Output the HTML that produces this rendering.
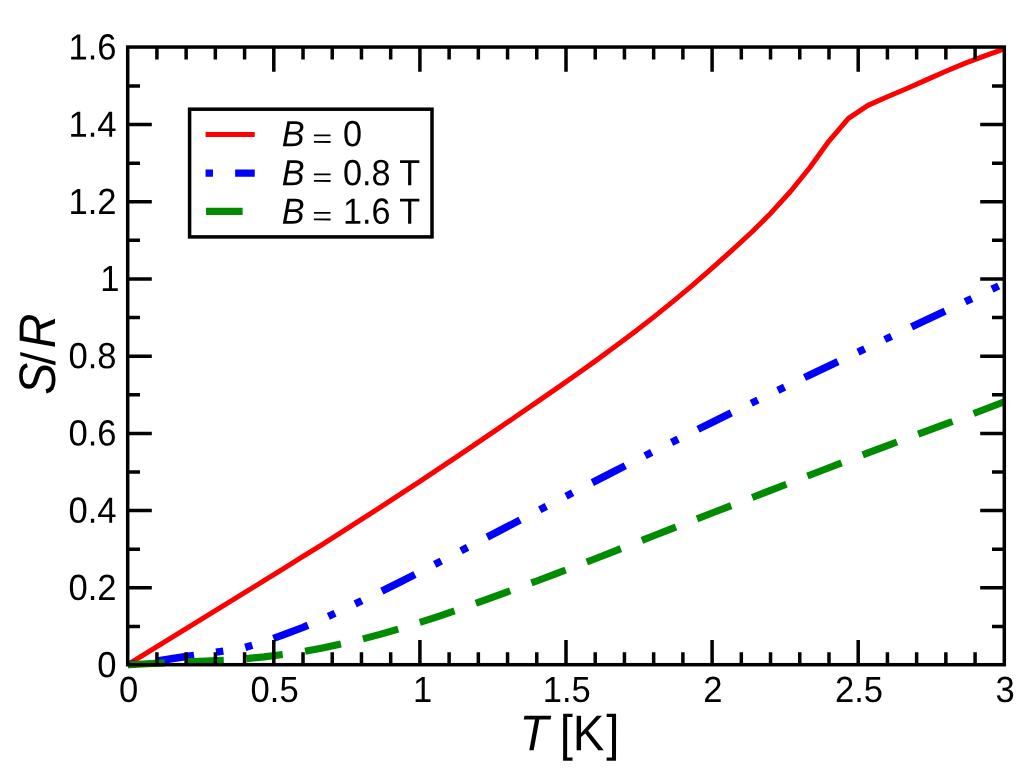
<!DOCTYPE html>
<html><head><meta charset="utf-8"><title>S/R vs T</title>
<style>html,body{margin:0;padding:0;background:#fff;}svg{display:block;}text{font-family:"Liberation Sans",sans-serif;fill:#000;text-rendering:geometricPrecision;}</style></head>
<body>
<svg width="1034" height="784" viewBox="0 0 1034 784">
<rect width="1034" height="784" fill="#fff"/>
<g fill="none" stroke-linejoin="round">
<path d="M127.70,664.70 L147.18,652.66 L166.66,640.61 L186.14,628.64 L205.62,616.68 L225.10,604.71 L244.58,592.71 L264.06,580.70 L283.54,568.62 L303.02,556.46 L322.50,544.26 L341.98,531.91 L361.46,519.44 L380.94,506.85 L400.42,494.15 L419.90,481.30 L439.38,468.36 L458.86,455.32 L478.34,442.15 L497.82,428.91 L517.30,415.56 L536.78,402.12 L556.26,388.65 L575.74,374.98 L595.22,361.09 L614.70,346.84 L634.18,332.21 L653.66,317.12 L673.14,301.41 L692.62,285.15 L712.10,268.21 L731.58,250.64 L751.06,232.73 L770.54,213.43 L790.02,192.00 L809.50,167.95 L828.98,141.05 L848.46,118.43 L867.94,105.34 L887.42,96.74 L906.90,88.53 L926.38,79.85 L945.86,71.23 L965.34,63.12 L984.82,55.91 L1004.30,48.86" stroke="#ff0000" stroke-width="5.00"/>
<path d="M127.70,664.70 L147.18,662.26 L166.66,659.53 L186.14,656.50 L205.62,653.72 L225.10,650.88 L244.58,647.58 L264.06,641.77 L283.54,634.70 L303.02,627.39 L322.50,619.03 L341.98,610.06 L361.46,600.90 L380.94,591.53 L400.42,581.87 L419.90,572.01 L439.38,562.00 L458.86,551.90 L478.34,541.76 L497.82,531.62 L517.30,521.47 L536.78,511.33 L556.26,501.22 L575.74,491.14 L595.22,481.10 L614.70,471.12 L634.18,461.20 L653.66,451.36 L673.14,441.60 L692.62,431.92 L712.10,422.31 L731.58,412.76 L751.06,403.28 L770.54,393.86 L790.02,384.49 L809.50,375.16 L828.98,365.88 L848.46,356.63 L867.94,347.42 L887.42,338.23 L906.90,329.06 L926.38,319.90 L945.86,310.76 L965.34,301.62 L984.82,292.49 L1004.30,283.34" stroke="#0000ff" stroke-width="7.40" stroke-dasharray="7.40,22.20,37.00,22.20,7.40,22.20" stroke-dashoffset="-0.4"/>
<path d="M127.70,664.70 L147.18,663.70 L166.66,662.76 L186.14,661.90 L205.62,661.07 L225.10,660.22 L244.58,658.83 L264.06,656.88 L283.54,654.48 L303.02,651.65 L322.50,647.96 L341.98,643.77 L361.46,639.23 L380.94,634.15 L400.42,628.55 L419.90,622.48 L439.38,616.03 L458.86,609.29 L478.34,602.37 L497.82,595.33 L517.30,588.19 L536.78,580.96 L556.26,573.63 L575.74,566.21 L595.22,558.69 L614.70,551.09 L634.18,543.45 L653.66,535.78 L673.14,528.13 L692.62,520.52 L712.10,513.02 L731.58,505.53 L751.06,497.92 L770.54,490.34 L790.02,482.80 L809.50,475.25 L828.98,467.72 L848.46,460.25 L867.94,452.87 L887.42,445.58 L906.90,438.36 L926.38,431.17 L945.86,423.95 L965.34,416.67 L984.82,409.29 L1004.30,401.77" stroke="#008b00" stroke-width="7.10" stroke-dasharray="36.6,22.6" stroke-dashoffset="-0.4"/>
</g>
<path d="M156.92,664.70v-12.40M156.92,47.05v12.40M186.14,664.70v-12.40M186.14,47.05v12.40M215.36,664.70v-12.40M215.36,47.05v12.40M244.58,664.70v-12.40M244.58,47.05v12.40M273.80,664.70v-24.60M273.80,47.05v24.60M303.02,664.70v-12.40M303.02,47.05v12.40M332.24,664.70v-12.40M332.24,47.05v12.40M361.46,664.70v-12.40M361.46,47.05v12.40M390.68,664.70v-12.40M390.68,47.05v12.40M419.90,664.70v-24.60M419.90,47.05v24.60M449.12,664.70v-12.40M449.12,47.05v12.40M478.34,664.70v-12.40M478.34,47.05v12.40M507.56,664.70v-12.40M507.56,47.05v12.40M536.78,664.70v-12.40M536.78,47.05v12.40M566.00,664.70v-24.60M566.00,47.05v24.60M595.22,664.70v-12.40M595.22,47.05v12.40M624.44,664.70v-12.40M624.44,47.05v12.40M653.66,664.70v-12.40M653.66,47.05v12.40M682.88,664.70v-12.40M682.88,47.05v12.40M712.10,664.70v-24.60M712.10,47.05v24.60M741.32,664.70v-12.40M741.32,47.05v12.40M770.54,664.70v-12.40M770.54,47.05v12.40M799.76,664.70v-12.40M799.76,47.05v12.40M828.98,664.70v-12.40M828.98,47.05v12.40M858.20,664.70v-24.60M858.20,47.05v24.60M887.42,664.70v-12.40M887.42,47.05v12.40M916.64,664.70v-12.40M916.64,47.05v12.40M945.86,664.70v-12.40M945.86,47.05v12.40M975.08,664.70v-12.40M975.08,47.05v12.40M127.70,626.40h12.30M1004.30,626.40h-12.30M127.70,587.79h24.10M1004.30,587.79h-24.10M127.70,549.19h12.30M1004.30,549.19h-12.30M127.70,510.59h24.10M1004.30,510.59h-24.10M127.70,471.98h12.30M1004.30,471.98h-12.30M127.70,433.38h24.10M1004.30,433.38h-24.10M127.70,394.78h12.30M1004.30,394.78h-12.30M127.70,356.18h24.10M1004.30,356.18h-24.10M127.70,317.57h12.30M1004.30,317.57h-12.30M127.70,278.97h24.10M1004.30,278.97h-24.10M127.70,240.37h12.30M1004.30,240.37h-12.30M127.70,201.76h24.10M1004.30,201.76h-24.10M127.70,163.16h12.30M1004.30,163.16h-12.30M127.70,124.56h24.10M1004.30,124.56h-24.10M127.70,85.95h12.30M1004.30,85.95h-12.30" stroke="#000" stroke-width="3.50" fill="none"/>
<rect x="127.70" y="47.05" width="876.60" height="617.65" fill="none" stroke="#000" stroke-width="3.50"/>
<g font-size="34.60">
<text transform="translate(128.50,701.90) rotate(0.03) scale(1,1.055)" text-anchor="middle">0</text>
<text transform="translate(274.60,701.90) rotate(0.03) scale(1,1.055)" text-anchor="middle">0.5</text>
<text transform="translate(422.70,701.90) rotate(0.03) scale(1,1.055)" text-anchor="middle">1</text>
<text transform="translate(566.80,701.90) rotate(0.03) scale(1,1.055)" text-anchor="middle">1.5</text>
<text transform="translate(712.90,701.90) rotate(0.03) scale(1,1.055)" text-anchor="middle">2</text>
<text transform="translate(859.00,701.90) rotate(0.03) scale(1,1.055)" text-anchor="middle">2.5</text>
<text transform="translate(1005.10,701.90) rotate(0.03) scale(1,1.055)" text-anchor="middle">3</text>
<text transform="translate(116.60,677.15) rotate(0.03) scale(1,1.055)" text-anchor="end">0</text>
<text transform="translate(116.60,599.94) rotate(0.03) scale(1,1.055)" text-anchor="end">0.2</text>
<text transform="translate(116.60,522.74) rotate(0.03) scale(1,1.055)" text-anchor="end">0.4</text>
<text transform="translate(116.60,445.53) rotate(0.03) scale(1,1.055)" text-anchor="end">0.6</text>
<text transform="translate(116.60,368.32) rotate(0.03) scale(1,1.055)" text-anchor="end">0.8</text>
<text transform="translate(119.60,291.12) rotate(0.03) scale(1,1.055)" text-anchor="end">1</text>
<text transform="translate(116.60,213.91) rotate(0.03) scale(1,1.055)" text-anchor="end">1.2</text>
<text transform="translate(116.60,136.71) rotate(0.03) scale(1,1.055)" text-anchor="end">1.4</text>
<text transform="translate(116.60,59.50) rotate(0.03) scale(1,1.055)" text-anchor="end">1.6</text>
</g>
<text transform="translate(519.55,750.2) rotate(0.03) scale(1,1.0626)" font-size="47.33"><tspan font-style="italic">T</tspan> <tspan dx="-1.9">[K</tspan><tspan dx="1.9">]</tspan></text>
<g font-size="48">
<text transform="translate(55.40,394.7) rotate(-90) scale(1,1.07)" font-style="italic">S</text>
<text transform="translate(55.40,365.2) rotate(-90) scale(1,1.0)">/</text>
<text transform="translate(55.40,348.2) rotate(-90) scale(1,1.07)" font-style="italic">R</text>
</g>
<rect x="189.6" y="109.2" width="242.4" height="127.7" fill="#fff" stroke="#000" stroke-width="3.50"/>
<path d="M205.55,134.60h49.2" stroke="#ff0000" stroke-width="5.00"/>
<path d="M205.55,173.10h49.2" stroke="#0000ff" stroke-width="7.40" stroke-dasharray="7.40,22.20,37.00,22.20,7.40,22.20"/>
<path d="M205.55,211.40h49.2" stroke="#008b00" stroke-width="7.10" stroke-dasharray="36.6,22.6" stroke-dashoffset="-0.5"/>
<g font-size="34.2">
<text transform="translate(281.75,146.20) rotate(0.03) scale(1,1.065)" font-style="italic">B</text>
<text transform="translate(312.2,147.20) rotate(0.03) scale(1,0.766)">=</text>
<text transform="translate(342.9,146.20) rotate(0.03) scale(1,1.065)">0</text>
<text transform="translate(281.75,185.20) rotate(0.03) scale(1,1.065)" font-style="italic">B</text>
<text transform="translate(312.2,186.20) rotate(0.03) scale(1,0.766)">=</text>
<text transform="translate(342.9,185.20) rotate(0.03) scale(1,1.065)">0.8 T</text>
<text transform="translate(281.75,223.75) rotate(0.03) scale(1,1.065)" font-style="italic">B</text>
<text transform="translate(312.2,224.75) rotate(0.03) scale(1,0.766)">=</text>
<text transform="translate(342.9,223.75) rotate(0.03) scale(1,1.065)">1.6 T</text>
</g>
</svg>
</body></html>
